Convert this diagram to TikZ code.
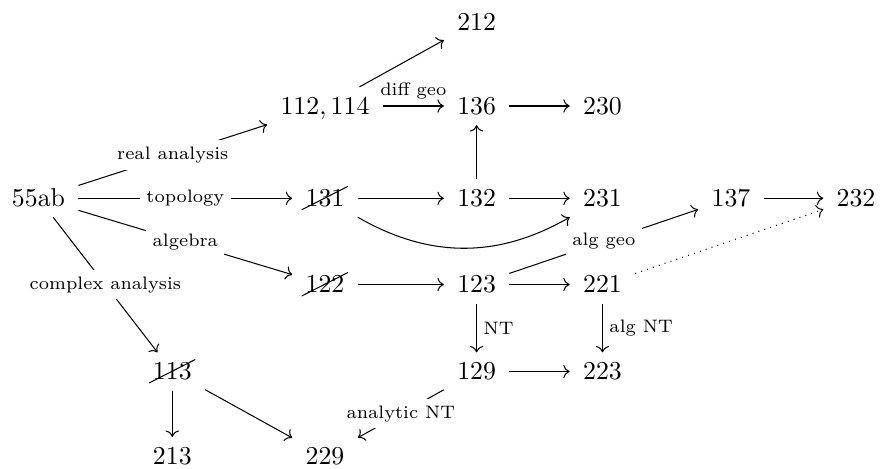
\documentclass[tikz,border=0pt]{standalone}
\usetikzlibrary{arrows.meta}
\begin{document}
\begin{tikzpicture}[x=0.3876pt,y=-0.3876pt,
  cell/.style={inner xsep=5pt, inner ysep=4pt, text height=6.44pt, text depth=0pt},
  ar/.style={-{Computer Modern Rightarrow}, line width=0.4pt},
  desc/.style={fill=white, inner sep=2.5pt, font=\scriptsize},
  lab/.style={inner sep=2.5pt, font=\scriptsize}]
\useasboundingbox (0,0) rectangle (881,468);
% cells
\node[cell] (a55)  at (38.5,198.3)  {55ab};
\node[cell] (n112) at (325,106)     {$112, 114$};
\node[cell] (n212) at (476.6,22)    {212};
\node[cell] (n136) at (476.6,106)   {136};
\node[cell] (n230) at (602.5,106)   {230};
\node[cell] (n131) at (325,198.3)   {131};
\node[cell] (n132) at (476.6,198.3) {132};
\node[cell] (n231) at (602.5,198.3) {231};
\node[cell] (n137) at (731,198.3)   {137};
\node[cell] (n232) at (856,198.3)   {232};
\node[cell] (n122) at (325,284.5)   {122};
\node[cell] (n123) at (476.6,284.5) {123};
\node[cell] (n221) at (602.5,284.5) {221};
\node[cell] (n113) at (172.3,371.5) {113};
\node[cell] (n129) at (476.6,371.5) {129};
\node[cell] (n223) at (602.5,371.5) {223};
\node[cell] (n213) at (172.3,456)   {213};
\node[cell] (n229) at (325,456)     {229};
% strike-outs
\foreach \n in {n131,n122,n113}
  \draw ([shift={(-23.3,11.5)}]\n.center) -- ([shift={(23,-12)}]\n.center);
% arrows
\draw[ar] (a55) -- node[desc]{real analysis} (n112);
\draw[ar] (a55) -- node[desc]{topology} (n131);
\draw[ar] (a55) -- node[desc]{algebra} (n122);
\draw[ar] (a55) -- node[desc]{complex analysis} (n113);
\draw[ar] (n112) -- (n212);
\draw[ar] (n112) -- node[lab,above]{diff geo} (n136);
\draw[ar] (n136) -- (n230);
\draw[ar] (n132) -- (n136);
\draw[ar] (n131) -- (n132);
\draw[ar] (n131) to[bend right=30] (n231);
\draw[ar] (n132) -- (n231);
\draw[ar] (n137) -- (n232);
\draw[ar] (n122) -- (n123);
\draw[ar] (n123) -- (n221);
\draw[ar] (n123) -- node[desc]{alg geo} (n137);
\draw[ar, dotted] (n221) -- (n232);
\draw[ar] (n123) -- node[lab,right]{NT} (n129);
\draw[ar] (n221) -- node[lab,right]{alg NT} (n223);
\draw[ar] (n129) -- (n223);
\draw[ar] (n129) -- node[desc]{analytic NT} (n229);
\draw[ar] (n113) -- (n213);
\draw[ar] (n113) -- (n229);
\end{tikzpicture}
\end{document}
